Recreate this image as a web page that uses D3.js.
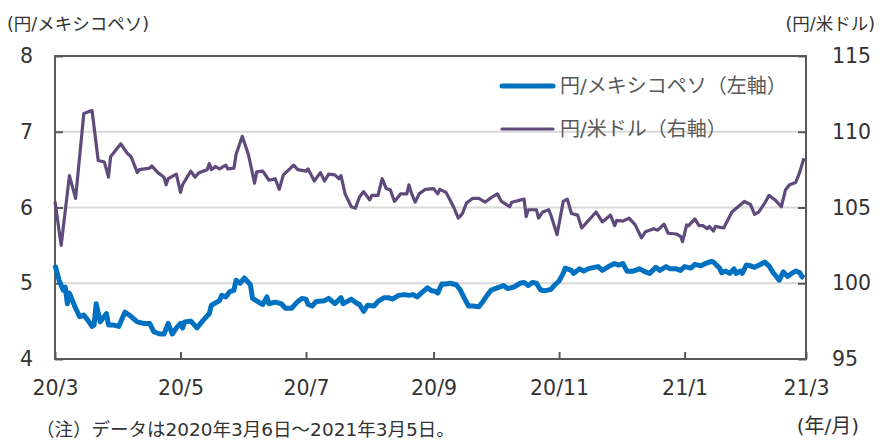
<!DOCTYPE html>
<html>
<head>
<meta charset="utf-8">
<script src="https://cdn.jsdelivr.net/npm/d3@7"></script>
<style>
  body { margin: 0; background: #fff; }
  text { font-family: "DejaVu Sans", "Noto Sans CJK JP", sans-serif; }
</style>
</head>
<body>
<div id="chart"></div>
<script>
// values (date as yy/m/d, rate)
const leftTicks = [4, 5, 6, 7, 8];
const rightTicks = [95, 100, 105, 110, 115];
const xTicks = ["20/3/6", "20/5/6", "20/7/6", "20/9/6", "20/11/6", "21/1/6", "21/3/6"];

const mxnLabel = "円/メキシコペソ（左軸）";
const usdLabel = "円/米ドル（右軸）";

// 円/メキシコペソ (left axis)
const mxnSeries = [
  ["20/3/6", 5.24], ["20/3/8", 5.04], ["20/3/10", 4.91], ["20/3/11", 4.95], ["20/3/12", 4.73], ["20/3/13", 4.87],
  ["20/3/16", 4.67], ["20/3/18", 4.56], ["20/3/20", 4.58], ["20/3/22", 4.51], ["20/3/24", 4.43], ["20/3/25", 4.45],
  ["20/3/26", 4.73], ["20/3/28", 4.49], ["20/3/31", 4.60],
  ["20/4/1", 4.45], ["20/4/3", 4.45], ["20/4/6", 4.43], ["20/4/9", 4.62], ["20/4/12", 4.56], ["20/4/15", 4.49],
  ["20/4/18", 4.47], ["20/4/21", 4.47], ["20/4/23", 4.36], ["20/4/26", 4.33], ["20/4/28", 4.33], ["20/4/30", 4.47],
  ["20/5/2", 4.33], ["20/5/4", 4.41], ["20/5/6", 4.47], ["20/5/7", 4.41], ["20/5/8", 4.49], ["20/5/11", 4.50],
  ["20/5/14", 4.41], ["20/5/17", 4.51], ["20/5/20", 4.60], ["20/5/21", 4.71], ["20/5/25", 4.77], ["20/5/26", 4.84],
  ["20/5/28", 4.82], ["20/5/30", 4.89],
  ["20/6/1", 4.91], ["20/6/2", 5.04], ["20/6/4", 5.00], ["20/6/6", 5.07], ["20/6/9", 4.98], ["20/6/10", 4.80],
  ["20/6/13", 4.75], ["20/6/15", 4.72], ["20/6/17", 4.82], ["20/6/18", 4.73], ["20/6/21", 4.75], ["20/6/24", 4.73],
  ["20/6/26", 4.67], ["20/6/29", 4.67],
  ["20/7/2", 4.76], ["20/7/4", 4.80], ["20/7/6", 4.79], ["20/7/7", 4.72], ["20/7/9", 4.70], ["20/7/11", 4.76],
  ["20/7/15", 4.77], ["20/7/17", 4.80], ["20/7/20", 4.73], ["20/7/23", 4.81], ["20/7/24", 4.73], ["20/7/28", 4.79],
  ["20/7/31", 4.73],
  ["20/8/1", 4.72], ["20/8/3", 4.63], ["20/8/5", 4.71], ["20/8/8", 4.70], ["20/8/10", 4.76], ["20/8/13", 4.81],
  ["20/8/15", 4.81], ["20/8/17", 4.79], ["20/8/20", 4.84], ["20/8/23", 4.85], ["20/8/25", 4.84], ["20/8/27", 4.85],
  ["20/8/29", 4.82], ["20/8/31", 4.87],
  ["20/9/3", 4.94], ["20/9/5", 4.90], ["20/9/7", 4.89], ["20/9/8", 4.87], ["20/9/10", 4.99], ["20/9/12", 4.99],
  ["20/9/14", 5.00], ["20/9/17", 4.98], ["20/9/19", 4.91], ["20/9/21", 4.80], ["20/9/23", 4.70], ["20/9/25", 4.70],
  ["20/9/28", 4.69], ["20/9/30", 4.76],
  ["20/10/2", 4.84], ["20/10/4", 4.91], ["20/10/6", 4.93], ["20/10/8", 4.95], ["20/10/10", 4.97], ["20/10/12", 4.93],
  ["20/10/15", 4.95], ["20/10/18", 5.00], ["20/10/20", 5.01], ["20/10/22", 4.97], ["20/10/24", 5.01], ["20/10/26", 5.00],
  ["20/10/28", 4.91], ["20/10/30", 4.90],
  ["20/11/2", 4.92], ["20/11/4", 4.98], ["20/11/6", 5.03], ["20/11/8", 5.13], ["20/11/9", 5.20], ["20/11/12", 5.17],
  ["20/11/13", 5.13], ["20/11/16", 5.19], ["20/11/18", 5.16], ["20/11/20", 5.19], ["20/11/23", 5.21], ["20/11/25", 5.22],
  ["20/11/27", 5.17], ["20/11/30", 5.22],
  ["20/12/3", 5.26], ["20/12/5", 5.24], ["20/12/7", 5.26], ["20/12/9", 5.16], ["20/12/12", 5.16], ["20/12/15", 5.19],
  ["20/12/18", 5.15], ["20/12/20", 5.13], ["20/12/23", 5.21], ["20/12/25", 5.17], ["20/12/28", 5.22], ["20/12/30", 5.19],
  ["21/1/2", 5.19], ["21/1/4", 5.17], ["21/1/6", 5.22], ["21/1/9", 5.20], ["21/1/11", 5.25], ["21/1/14", 5.23],
  ["21/1/16", 5.26], ["21/1/19", 5.29], ["21/1/20", 5.28], ["21/1/23", 5.20], ["21/1/24", 5.14], ["21/1/26", 5.16],
  ["21/1/28", 5.13], ["21/1/30", 5.19], ["21/1/31", 5.13],
  ["21/2/2", 5.16], ["21/2/3", 5.13], ["21/2/5", 5.24], ["21/2/7", 5.23], ["21/2/9", 5.21], ["21/2/12", 5.25],
  ["21/2/14", 5.28], ["21/2/16", 5.23], ["21/2/18", 5.14], ["21/2/19", 5.11], ["21/2/21", 5.04], ["21/2/23", 5.15],
  ["21/2/25", 5.09], ["21/2/27", 5.13],
  ["21/3/1", 5.16], ["21/3/3", 5.14], ["21/3/4", 5.09], ["21/3/5", 5.07]
];

// 円/米ドル (right axis)
const usdSeries = [
  ["20/3/6", 105.4], ["20/3/9", 102.5], ["20/3/13", 107.1], ["20/3/16", 105.6], ["20/3/20", 111.2], ["20/3/24", 111.4],
  ["20/3/27", 108.1], ["20/3/30", 108.0],
  ["20/4/1", 107.0], ["20/4/2", 108.35], ["20/4/7", 109.2], ["20/4/10", 108.6], ["20/4/12", 108.35], ["20/4/15", 107.3],
  ["20/4/16", 107.5], ["20/4/21", 107.6], ["20/4/22", 107.75], ["20/4/25", 107.3], ["20/4/28", 107.0], ["20/4/29", 106.5],
  ["20/4/30", 106.9],
  ["20/5/4", 107.2], ["20/5/6", 106.0], ["20/5/7", 106.5], ["20/5/11", 107.4], ["20/5/13", 107.0], ["20/5/15", 107.3],
  ["20/5/19", 107.5], ["20/5/20", 107.9], ["20/5/21", 107.5], ["20/5/23", 107.7], ["20/5/25", 107.55], ["20/5/28", 107.8],
  ["20/5/29", 107.55],
  ["20/6/1", 107.6], ["20/6/2", 108.5], ["20/6/5", 109.7], ["20/6/8", 108.5], ["20/6/11", 106.6], ["20/6/12", 107.35],
  ["20/6/15", 107.4], ["20/6/18", 106.8], ["20/6/21", 106.9], ["20/6/23", 106.2], ["20/6/25", 107.15], ["20/6/30", 107.8],
  ["20/7/2", 107.5], ["20/7/6", 107.4], ["20/7/7", 107.55], ["20/7/10", 106.75], ["20/7/13", 107.3], ["20/7/15", 106.75],
  ["20/7/17", 107.2], ["20/7/20", 107.15], ["20/7/22", 106.9], ["20/7/23", 107.1], ["20/7/25", 105.9], ["20/7/28", 105.05],
  ["20/7/30", 104.95],
  ["20/8/1", 105.7], ["20/8/3", 106.05], ["20/8/6", 105.5], ["20/8/7", 105.8], ["20/8/10", 105.8], ["20/8/12", 106.9],
  ["20/8/14", 106.25], ["20/8/16", 106.15], ["20/8/18", 105.4], ["20/8/21", 105.9], ["20/8/24", 105.9], ["20/8/25", 106.5],
  ["20/8/26", 106.05], ["20/8/28", 105.35], ["20/8/30", 105.9],
  ["20/9/2", 106.2], ["20/9/6", 106.25], ["20/9/8", 105.9], ["20/9/9", 106.2], ["20/9/12", 106.0], ["20/9/14", 105.5],
  ["20/9/16", 104.95], ["20/9/18", 104.3], ["20/9/20", 104.6], ["20/9/22", 105.3], ["20/9/25", 105.6], ["20/9/28", 105.6],
  ["20/10/1", 105.35], ["20/10/4", 105.65], ["20/10/7", 105.9], ["20/10/9", 105.4], ["20/10/13", 105.05], ["20/10/14", 105.35],
  ["20/10/20", 105.55], ["20/10/21", 104.4], ["20/10/22", 104.85], ["20/10/26", 104.85], ["20/10/27", 104.3], ["20/10/29", 104.7],
  ["20/11/1", 104.85], ["20/11/2", 104.5], ["20/11/5", 103.2], ["20/11/8", 105.4], ["20/11/10", 105.55], ["20/11/12", 104.6],
  ["20/11/15", 104.5], ["20/11/17", 103.65], ["20/11/19", 103.95], ["20/11/24", 104.7], ["20/11/27", 104.05],
  ["20/12/1", 104.5], ["20/12/3", 103.8], ["20/12/4", 104.15], ["20/12/7", 104.1], ["20/12/10", 104.3], ["20/12/13", 103.85],
  ["20/12/16", 103.0], ["20/12/18", 103.4], ["20/12/22", 103.6], ["20/12/24", 103.5], ["20/12/27", 103.9], ["20/12/29", 103.3],
  ["21/1/2", 103.25], ["21/1/4", 103.1], ["21/1/5", 102.75], ["21/1/7", 103.85], ["21/1/8", 103.8], ["21/1/11", 104.25],
  ["21/1/13", 103.8], ["21/1/15", 103.8], ["21/1/17", 103.6], ["21/1/18", 103.75], ["21/1/20", 103.45], ["21/1/21", 103.75],
  ["21/1/25", 103.65], ["21/1/29", 104.7],
  ["21/2/1", 105.05], ["21/2/4", 105.4], ["21/2/7", 105.2], ["21/2/9", 104.55], ["21/2/11", 104.7], ["21/2/14", 105.3],
  ["21/2/16", 105.8], ["21/2/19", 105.5], ["21/2/22", 105.05], ["21/2/24", 106.15], ["21/2/26", 106.5],
  ["21/3/1", 106.65], ["21/3/3", 107.35], ["21/3/5", 108.25]
];

const width = 880, height = 440;
const margin = { top: 56, right: 74, bottom: 81, left: 55 };
const plotW = width - margin.left - margin.right;
const plotH = height - margin.top - margin.bottom;

const parseDate = d3.timeParse("%y/%m/%d");
const fmtTick = d3.timeFormat("%y/%-m");

const svg = d3.select("#chart")
  .append("svg")
  .attr("width", width)
  .attr("height", height);

const g = svg.append("g")
  .attr("transform", `translate(${margin.left}, ${margin.top})`);

// scales
const xScale = d3.scaleTime()
  .domain([parseDate(xTicks[0]), parseDate(xTicks[xTicks.length - 1])])
  .range([0, plotW]);
const yLeft = d3.scaleLinear().domain([4, 8]).range([plotH, 0]);
const yRight = d3.scaleLinear().domain([95, 115]).range([plotH, 0]);

// gridlines
g.append("g")
  .selectAll("line")
  .data(leftTicks.slice(1, -1))
  .enter()
  .append("line")
  .attr("x1", 0)
  .attr("x2", plotW)
  .attr("y1", d => yLeft(d))
  .attr("y2", d => yLeft(d))
  .attr("stroke", "#d9d9d9")
  .attr("stroke-width", 2);

// axes (ticks point inward)
const tickColor = "#595959";
const labelColor = "#333";

const leftAxis = g.append("g")
  .call(d3.axisLeft(yLeft).tickValues(leftTicks).tickFormat(d3.format("d"))
    .tickSizeInner(-8).tickSizeOuter(0).tickPadding(22));
const rightAxis = g.append("g")
  .attr("transform", `translate(${plotW}, 0)`)
  .call(d3.axisRight(yRight).tickValues(rightTicks).tickFormat(d3.format("d"))
    .tickSizeInner(-8).tickSizeOuter(0).tickPadding(26));
const bottomAxis = g.append("g")
  .attr("transform", `translate(0, ${plotH})`)
  .call(d3.axisBottom(xScale).tickValues(xTicks.map(parseDate)).tickFormat(fmtTick)
    .tickSizeInner(-7).tickSizeOuter(0).tickPadding(21));

[leftAxis, rightAxis, bottomAxis].forEach(ax => {
  ax.select(".domain").remove();
  ax.selectAll(".tick line").attr("stroke", tickColor).attr("stroke-width", 2);
  ax.selectAll(".tick text")
    .attr("fill", labelColor)
    .style("font-family", "'DejaVu Sans', sans-serif")
    .style("font-size", "20.5px");
});

// frame
g.append("rect")
  .attr("x", 0)
  .attr("y", 0)
  .attr("width", plotW)
  .attr("height", plotH)
  .attr("fill", "none")
  .attr("stroke", tickColor)
  .attr("stroke-width", 2);

// lines
const usdLine = d3.line()
  .x(d => xScale(parseDate(d[0])))
  .y(d => yRight(d[1]));
const mxnLine = d3.line()
  .x(d => xScale(parseDate(d[0])))
  .y(d => yLeft(d[1]));

g.append("path")
  .datum(usdSeries)
  .attr("d", usdLine)
  .attr("fill", "none")
  .attr("stroke", "#604a7b")
  .attr("stroke-width", 3.2)
  .attr("stroke-linejoin", "round");

g.append("path")
  .datum(mxnSeries)
  .attr("d", mxnLine)
  .attr("fill", "none")
  .attr("stroke", "#0070c0")
  .attr("stroke-width", 5)
  .attr("stroke-linejoin", "round");

// legend
const legend = svg.append("g").attr("transform", "translate(500, 0)");
const legendItems = [
  { label: mxnLabel, color: "#0070c0", w: 5, y: 86 },
  { label: usdLabel, color: "#604a7b", w: 3.2, y: 129 }
];
legendItems.forEach(item => {
  legend.append("line")
    .attr("x1", 2).attr("x2", 53)
    .attr("y1", item.y).attr("y2", item.y)
    .attr("stroke", item.color)
    .attr("stroke-width", item.w)
    .attr("stroke-linecap", "round");
  legend.append("text")
    .attr("x", 60)
    .attr("y", item.y)
    .attr("dy", "0.35em")
    .attr("fill", "#595959")
    .style("font-size", "20px")
    .text(item.label);
});

// axis titles and note
svg.append("text")
  .attr("x", 7).attr("y", 30)
  .attr("fill", labelColor)
  .style("font-size", "17.5px")
  .text("(円/メキシコペソ)");

svg.append("text")
  .attr("x", 875).attr("y", 30)
  .attr("text-anchor", "end")
  .attr("fill", labelColor)
  .style("font-size", "17.5px")
  .text("(円/米ドル)");

svg.append("text")
  .attr("x", 859).attr("y", 433)
  .attr("text-anchor", "end")
  .attr("fill", labelColor)
  .style("font-size", "20px")
  .text("(年/月)");

svg.append("text")
  .attr("x", 36).attr("y", 436)
  .attr("fill", labelColor)
  .style("font-size", "18.5px")
  .text("（注）データは2020年3月6日～2021年3月5日。");
</script>
</body>
</html>
